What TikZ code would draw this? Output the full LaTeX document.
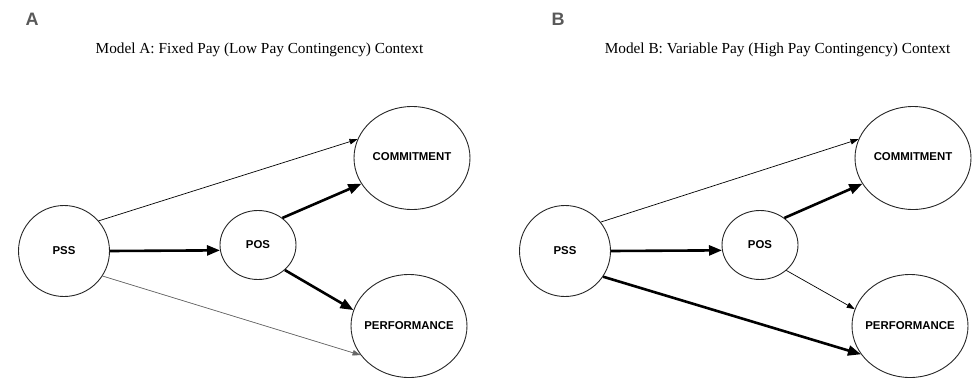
\documentclass[tikz,border=0pt]{standalone}
\usepackage{fontspec}
\setmainfont{Liberation Serif}
\setsansfont{Liberation Sans}
\usetikzlibrary{shapes.geometric,arrows.meta}
\begin{document}
\begin{tikzpicture}[x=1pt,y=-1pt,
  var/.style={ellipse,draw=black!85,line width=0.9pt,inner sep=0pt,font=\sffamily\bfseries\fontsize{11.4}{13}\selectfont},
  small/.style={var,minimum width=91pt,minimum height=91pt},
  mid/.style={var,minimum width=76pt,minimum height=69pt},
  big/.style={var,minimum width=116pt,minimum height=103pt},
  thinarr/.style={line width=0.7pt,-{Triangle[length=8pt,width=5.5pt]}},
  thickarr/.style={line width=2.6pt,-{Triangle[length=13pt,width=10pt]}},
  faint/.style={thinarr,draw=black!60,fill=black!60},
  panel/.style={font=\sffamily\bfseries\fontsize{18}{20}\selectfont,text=black!65},
  title/.style={font=\fontsize{15.3}{17}\selectfont}
]
\useasboundingbox (0,0) rectangle (974,381);

% Panel A
\node[panel] (la) at (32,19) {A};
\node[title] (ta) at (259.5,50) {Model A: Fixed Pay (Low Pay Contingency) Context};
\node[small] (pssA) at (64,251) {PSS};
\node[mid] (posA) at (258,245) {POS};
\node[big] (comA) at (412,158) {\raisebox{3pt}{\makebox[0pt]{COMMITMENT}}};
\node[big] (perA) at (409,326) {\makebox[0pt]{PERFORMANCE}};
\draw[thinarr] (pssA.41) -- (comA.161.5);
\draw[thickarr] (pssA.0) -- (posA.188);
\draw[thickarr] (posA.48) -- (comA.207);
\draw[thickarr] (posA.317) -- (perA.164);
\draw[faint] (pssA.327) -- (perA.211);

% Panel B
\node[panel] (lb) at (558,19) {B};
\node[title] (tb) at (777.5,50) {Model B: Variable Pay (High Pay Contingency) Context};
\node[small] (pssB) at (565,251) {PSS};
\node[mid] (posB) at (760,245) {POS};
\node[big] (comB) at (913,158) {\raisebox{3pt}{\makebox[0pt]{COMMITMENT}}};
\node[big] (perB) at (910,326) {\makebox[0pt]{PERFORMANCE}};
\draw[thinarr] (pssB.39) -- (comB.161);
\draw[thickarr] (pssB.0) -- (posB.188);
\draw[thickarr] (posB.48) -- (comB.207);
\draw[thinarr] (posB.316) -- (perB.163);
\draw[thickarr] (pssB.326) -- (perB.210.5);
\end{tikzpicture}
\end{document}
